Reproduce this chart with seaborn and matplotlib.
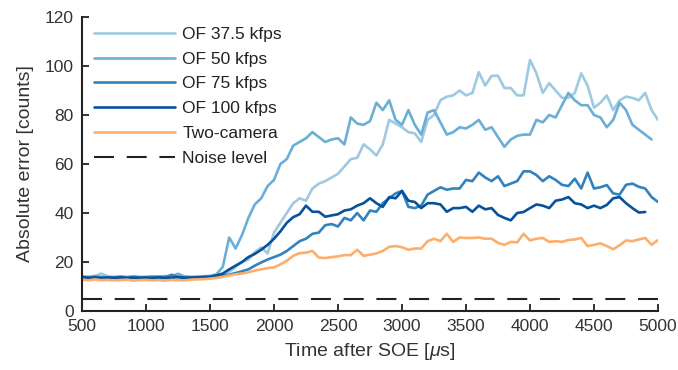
import numpy as np
import pandas as pd
import matplotlib
matplotlib.use("Agg")
import matplotlib.pyplot as plt
import seaborn as sns

nan = np.nan
time_us = list(range(500, 5001, 50))

of_37_5 = [14.2, 14.0, 14.3, 15.3, 14.2, 13.8, 14.0, 13.9, 14.1, 13.8, 14.0, 13.9, 14.2, 14.0, 13.8, 14.1, 14.0, 13.9, 14.0, 14.2,
           14.0, 14.2, 14.8, 16.0, 18.0, 20.0, 21.0, 24.0, 26.0, 23.5, 32.0, 36.0, 40.0, 44.0, 46.0, 45.0, 50.0, 52.0, 53.0, 54.5,
           56.0, 59.0, 62.0, 62.5, 68.0, 66.0, 63.5, 68.0, 78.0, 76.5,
           75.0, 73.0, 72.5, 69.0, 78.0, 80.0, 86.0, 87.5, 88.0, 90.0, 88.0, 89.0, 97.5, 92.0, 96.0, 96.0, 91.0, 91.0, 88.0, 88.0,
           102.5, 97.0, 89.0, 93.0, 90.0, 87.0, 87.0, 89.0, 97.0, 92.0, 83.0, 85.0, 88.0, 82.0, 86.0, 87.5, 87.0, 86.0, 89.0, 82.0, 78.0]

of_50 = [14.0, 13.8, 14.1, 14.0, 13.7, 13.9, 14.0, 13.8, 14.1, 13.9, 13.8, 14.0, 13.9, 14.3, 14.0, 15.2, 14.1, 13.8, 14.0, 14.2,
         14.3, 15.0, 18.0, 30.0, 25.5, 31.0, 38.0, 43.5, 46.0, 51.0, 53.5, 60.0, 62.0, 67.5, 69.0, 70.5, 73.0, 71.0, 69.0, 70.0,
         70.5, 68.0, 79.0, 76.5, 76.0, 77.5, 85.0, 82.0, 86.0, 78.0,
         76.0, 82.0, 76.0, 72.0, 81.0, 82.0, 77.0, 72.0, 73.0, 75.0, 74.5, 76.0, 78.0, 74.0, 75.0, 71.0, 67.0, 70.0, 71.5, 72.0,
         72.0, 78.0, 77.0, 80.0, 79.0, 84.0, 89.0, 86.0, 84.0, 84.0, 80.0, 79.0, 75.0, 78.0, 85.0, 82.0, 76.0, 74.0, 72.0, 70.0, nan]

of_75 = [13.8, 13.6, 13.9, 13.7, 13.8, 13.6, 13.9, 13.7, 13.8, 13.6, 13.7, 13.9, 13.8, 13.7, 14.8, 13.9, 13.7, 13.8, 13.6, 13.8,
         13.9, 14.2, 14.5, 14.8, 15.5, 16.2, 17.0, 18.5, 19.8, 21.0, 22.0, 23.0, 24.5, 26.5, 28.5, 29.5, 31.5, 32.0, 35.0, 35.5,
         34.5, 38.0, 37.0, 40.0, 37.0, 41.0, 40.5, 44.0, 46.0, 48.0,
         49.0, 42.5, 42.0, 43.0, 47.5, 49.0, 50.5, 49.5, 50.0, 50.0, 53.5, 53.0, 56.5, 54.5, 53.0, 55.0, 51.0, 52.0, 53.0, 57.0,
         57.0, 55.5, 53.0, 55.0, 53.5, 51.5, 51.0, 54.0, 50.0, 56.5, 50.0, 50.5, 51.4, 48.0, 47.5, 51.5, 52.0, 50.7, 50.0, 46.5, 44.5]

of_100 = [13.9, 13.5, 13.7, 13.4, 13.6, 13.5, 13.7, 13.4, 13.6, 13.5, 13.6, 13.4, 13.7, 13.5, 13.6, 13.8, 13.5, 13.6, 13.7, 13.8,
          14.0, 14.5, 15.3, 17.0, 18.5, 20.0, 22.0, 23.3, 25.0, 27.0, 29.5, 32.5, 36.0, 38.3, 39.5, 43.0, 40.5, 40.5, 38.5, 39.0,
          39.5, 41.0, 41.5, 43.0, 44.0, 46.0, 44.0, 42.5, 46.5, 46.0,
          49.0, 45.0, 44.5, 42.0, 44.0, 44.0, 43.5, 40.5, 42.0, 42.0, 42.5, 40.5, 43.0, 41.5, 42.0, 39.2, 38.0, 37.0, 40.0, 40.4,
          42.0, 43.5, 43.0, 42.0, 45.0, 45.5, 46.5, 44.0, 43.5, 42.0, 43.0, 42.0, 43.3, 46.0, 46.5, 44.0, 42.0, 40.2, 40.4, nan, nan]

two_camera = [12.8, 12.5, 12.9, 12.6, 12.7, 12.5, 12.6, 12.8, 12.4, 12.6, 12.7, 12.5, 12.6, 12.4, 12.7, 12.6, 12.5, 12.8, 12.9, 13.0,
              13.2, 13.5, 13.9, 14.5, 15.0, 15.3, 15.8, 16.5, 17.0, 17.5, 17.8, 19.0, 20.5, 22.5, 23.6, 23.8, 24.5, 21.8, 21.6, 22.0,
              22.3, 22.8, 22.8, 25.0, 22.5, 23.0, 23.5, 24.5, 26.2, 26.5,
              26.0, 25.0, 25.5, 25.5, 28.5, 29.5, 28.5, 31.5, 28.2, 30.0, 29.8, 29.8, 30.0, 29.5, 29.5, 27.8, 27.0, 28.2, 28.0, 31.5,
              28.8, 29.5, 29.8, 28.2, 28.5, 28.2, 29.0, 29.2, 29.8, 26.5, 27.0, 27.6, 26.5, 25.2, 26.8, 28.8, 28.5, 29.2, 29.8, 27.0, 29.0]

noise_level = 4.9
noise_x = [500, 5000]

series_names = ["OF 37.5 kfps", "OF 50 kfps", "OF 75 kfps", "OF 100 kfps", "Two-camera"]
series_values = [of_37_5, of_50, of_75, of_100, two_camera]
series_colors = ["#9ecae1", "#6baed6", "#3182bd", "#08519c", "#fdae6b"]

sns.set_style("ticks")
plt.rcParams["font.family"] = ["Liberation Sans", "DejaVu Sans"]
plt.rcParams["mathtext.fontset"] = "custom"
plt.rcParams["mathtext.it"] = "Liberation Sans:italic"

fig = plt.figure(figsize=(6.78, 3.70), dpi=100)
ax = fig.add_axes([82 / 678, 59 / 370, 576 / 678, 294 / 370])

for name, vals, col in zip(series_names, series_values, series_colors):
    df = pd.DataFrame({"t": time_us, "v": vals}).dropna()
    sns.lineplot(data=df, x="t", y="v", ax=ax, color=col, lw=1.9, label=name)

ndf = pd.DataFrame({"t": noise_x, "v": [noise_level, noise_level]})
sns.lineplot(data=ndf, x="t", y="v", ax=ax, color="#222222", lw=1.5,
             dashes=False, label="Noise level")
ax.lines[-1].set_dashes((9.6, 6.1))

ax.set_xlim(500, 5000)
ax.set_ylim(0, 120)
ax.set_xticks(range(500, 5001, 500))
ax.set_yticks(range(0, 121, 20))
sns.despine(ax=ax)
for s in ["left", "bottom"]:
    ax.spines[s].set_linewidth(1.5)
    ax.spines[s].set_color("#222222")
ax.tick_params(direction="in", length=5, width=1.3, colors="#222222",
               labelsize=12.5, labelcolor="#333333", pad=6)
ax.set_xlabel("Time after SOE [$\\mu$s]", fontsize=14, color="#333333", labelpad=5)
ax.set_ylabel("Absolute error [counts]", fontsize=14, color="#333333", labelpad=8)

leg = ax.legend(loc="upper left", bbox_to_anchor=(0.004, 1.0), frameon=False,
                fontsize=12.5, handlelength=4.7, handletextpad=0.4,
                labelspacing=0.56, borderaxespad=0.15)
for t in leg.get_texts():
    t.set_color("#222222")

fig.savefig("out.png", dpi=100)
